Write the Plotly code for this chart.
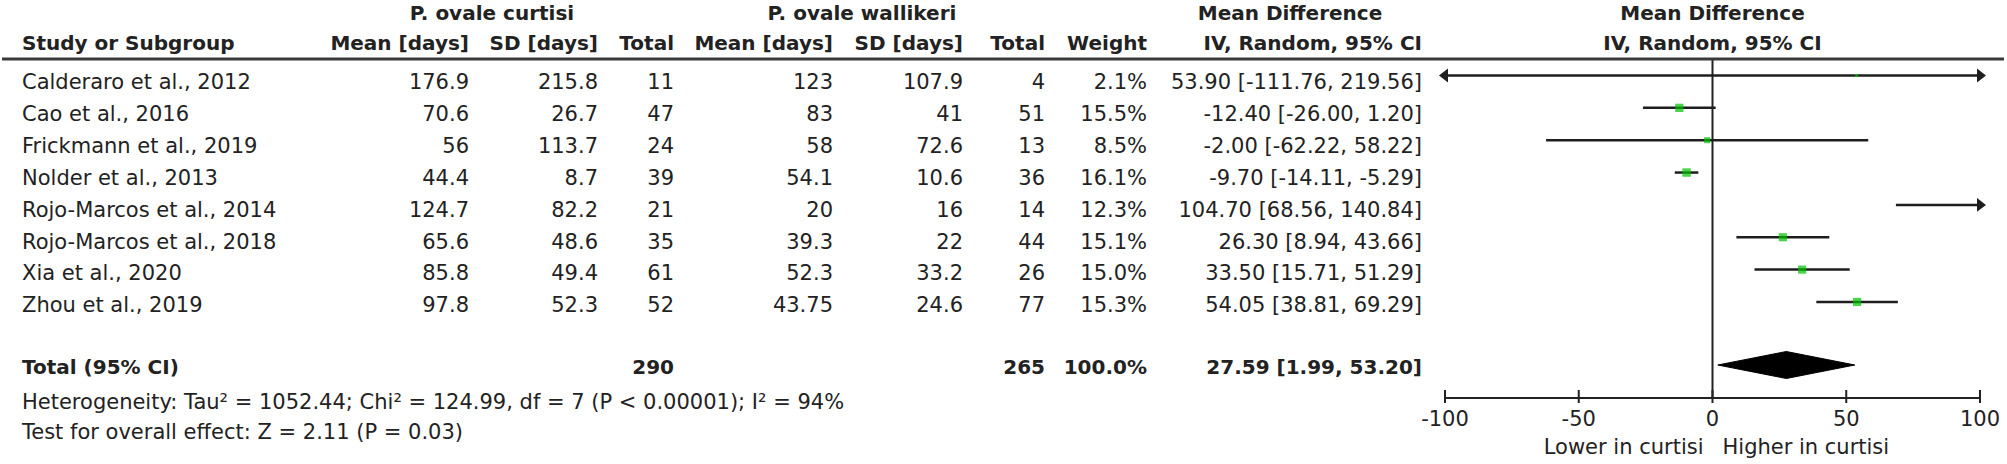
import math
import plotly.graph_objects as go

# ---------------- data ----------------
studies = ["Calderaro et al., 2012", "Cao et al., 2016", "Frickmann et al., 2019",
           "Nolder et al., 2013", "Rojo-Marcos et al., 2014", "Rojo-Marcos et al., 2018",
           "Xia et al., 2020", "Zhou et al., 2019"]
curtisi_mean = [176.9, 70.6, 56, 44.4, 124.7, 65.6, 85.8, 97.8]
curtisi_sd = [215.8, 26.7, 113.7, 8.7, 82.2, 48.6, 49.4, 52.3]
curtisi_n = [11, 47, 24, 39, 21, 35, 61, 52]
wallikeri_mean = [123, 83, 58, 54.1, 20, 39.3, 52.3, 43.75]
wallikeri_sd = [107.9, 41, 72.6, 10.6, 16, 22, 33.2, 24.6]
wallikeri_n = [4, 51, 13, 36, 14, 44, 26, 77]
weights = [2.1, 15.5, 8.5, 16.1, 12.3, 15.1, 15.0, 15.3]
md = [53.90, -12.40, -2.00, -9.70, 104.70, 26.30, 33.50, 54.05]
ci_lo = [-111.76, -26.00, -62.22, -14.11, 68.56, 8.94, 15.71, 38.81]
ci_hi = [219.56, 1.20, 58.22, -5.29, 140.84, 43.66, 51.29, 69.29]

total_curtisi = 290
total_wallikeri = 265
total_weight = 100.0
pooled_md = 27.59
pooled_lo = 1.99
pooled_hi = 53.20

heterogeneity_text = "Heterogeneity: Tau² = 1052.44; Chi² = 124.99, df = 7 (P < 0.00001); I² = 94%"
overall_text = "Test for overall effect: Z = 2.11 (P = 0.03)"

tick_vals = [-100, -50, 0, 50, 100]
tick_text = ["-100", "-50", "0", "50", "100"]
x_min, x_max = -100, 100
favours_left = "Lower in curtisi"
favours_right = "Higher in curtisi"

# ---------------- layout constants ----------------
W, H = 2007, 464
FONT = "DejaVu Sans"
TXT = "#222222"
REG = 21
BOLD = 20
TEXT_DY = 2

n = len(studies)
row_text_y = [82 + 31.85 * i for i in range(n)]
row_mark_y = [75.5 + 32.35 * i for i in range(n)]
total_text_y = 367
total_mark_y = 365
diamond_half = 13.5
het_y = 402
test_y = 432
head1_y = 13
head2_y = 43
rule_y = 59
axis_y = 398
tick_up, tick_down = 8, 5
ticklab_y = 419
lab_y = 447

col_study = 22
col_c_mean = 469
col_c_sd = 598
col_c_n = 674
col_w_mean = 833
col_w_sd = 963
col_w_n = 1045
col_weight = 1147
col_ci = 1422
plot_left_px, plot_right_px = 1445, 1980
pad_px = 20
ppu = (plot_right_px - plot_left_px) / (x_max - x_min)
zero_px = plot_left_px + (0 - x_min) * ppu

fig = go.Figure()

# CI lines (drawn up to the axis limits; arrows mark the overflow)
xs, ys = [], []
for lo, hi, y in zip(ci_lo, ci_hi, row_mark_y):
    xs += [max(lo, x_min), min(hi, x_max), None]
    ys += [y, y, None]
fig.add_trace(go.Scatter(x=xs, y=ys, mode="lines",
                         line=dict(color="#1e1e1e", width=2.5),
                         hoverinfo="skip", showlegend=False))

# arrow heads for intervals exceeding the axis
ax_x, ax_y, ax_sym = [], [], []
for lo, hi, y in zip(ci_lo, ci_hi, row_mark_y):
    if lo < x_min:
        ax_x.append(x_min); ax_y.append(y); ax_sym.append("triangle-left")
    if hi > x_max:
        ax_x.append(x_max); ax_y.append(y); ax_sym.append("triangle-right")
fig.add_trace(go.Scatter(x=ax_x, y=ax_y, mode="markers", cliponaxis=False,
                         marker=dict(symbol=ax_sym, size=12, color="#1e1e1e",
                                     line=dict(width=0)),
                         hoverinfo="skip", showlegend=False))

# study squares (only those inside the axis range are shown)
sq_x = [m if x_min <= m <= x_max else None for m in md]
fig.add_trace(go.Scatter(x=sq_x, y=row_mark_y, mode="markers", cliponaxis=True,
                         marker=dict(symbol="square",
                                     size=[2.1 * math.sqrt(w) for w in weights],
                                     color="#00c000", line=dict(width=0)),
                         hoverinfo="skip", showlegend=False))

# pooled diamond
fig.add_trace(go.Scatter(
    x=[pooled_lo, pooled_md, pooled_hi, pooled_md, pooled_lo],
    y=[total_mark_y, total_mark_y - diamond_half, total_mark_y,
       total_mark_y + diamond_half, total_mark_y],
    mode="lines", fill="toself", fillcolor="#000000",
    line=dict(color="#000000", width=1), hoverinfo="skip", showlegend=False))

# axis line and tick marks
tx, ty = [x_min, x_max, None], [axis_y, axis_y, None]
for v in tick_vals:
    tx += [v, v, None]
    ty += [axis_y - tick_up, axis_y + tick_down, None]
fig.add_trace(go.Scatter(x=tx, y=ty, mode="lines", cliponaxis=False,
                         line=dict(color="#222222", width=2),
                         hoverinfo="skip", showlegend=False))


def add_text(xs_, ys_, texts, pos, bold=False, xaxis="x2"):
    fig.add_trace(go.Scatter(
        x=list(xs_), y=[y + TEXT_DY for y in ys_], text=list(texts), mode="text",
        textposition=pos, cliponaxis=False, xaxis=xaxis, yaxis="y",
        textfont=dict(family=FONT, size=(BOLD if bold else REG), color=TXT,
                      weight=("bold" if bold else "normal")),
        hoverinfo="skip", showlegend=False))


def fmt(v):
    return "%g" % v


R = "middle left"   # text ends at x (right aligned)
L = "middle right"  # text starts at x (left aligned)
C = "middle center"

# tick labels
add_text(tick_vals, [ticklab_y] * len(tick_vals), tick_text, C, xaxis="x")

# headers
add_text([492, 862, 1290], [head1_y] * 3,
         ["P. ovale curtisi", "P. ovale wallikeri", "Mean Difference"], C, True)
add_text([0, 0], [head1_y, head2_y], ["Mean Difference", "IV, Random, 95% CI"], C, True, xaxis="x")
add_text([col_study], [head2_y], ["Study or Subgroup"], L, True)
add_text([col_c_mean, col_c_sd, col_c_n, col_w_mean, col_w_sd, col_w_n, col_weight, col_ci],
         [head2_y] * 8,
         ["Mean [days]", "SD [days]", "Total", "Mean [days]", "SD [days]", "Total",
          "Weight", "IV, Random, 95% CI"], R, True)

# study rows
add_text([col_study] * n, row_text_y, studies, L)
add_text([col_c_mean] * n, row_text_y, [fmt(v) for v in curtisi_mean], R)
add_text([col_c_sd] * n, row_text_y, [fmt(v) for v in curtisi_sd], R)
add_text([col_c_n] * n, row_text_y, [fmt(v) for v in curtisi_n], R)
add_text([col_w_mean] * n, row_text_y, [fmt(v) for v in wallikeri_mean], R)
add_text([col_w_sd] * n, row_text_y, [fmt(v) for v in wallikeri_sd], R)
add_text([col_w_n] * n, row_text_y, [fmt(v) for v in wallikeri_n], R)
add_text([col_weight] * n, row_text_y, ["%.1f%%" % w for w in weights], R)
add_text([col_ci] * n, row_text_y,
         ["%.2f [%.2f, %.2f]" % (m, a, b) for m, a, b in zip(md, ci_lo, ci_hi)], R)

# total row
add_text([col_study], [total_text_y], ["Total (95% CI)"], L, True)
add_text([col_c_n, col_w_n, col_weight, col_ci], [total_text_y] * 4,
         [str(total_curtisi), str(total_wallikeri), "%.1f%%" % total_weight,
          "%.2f [%.2f, %.2f]" % (pooled_md, pooled_lo, pooled_hi)], R, True)

# footer
add_text([col_study, col_study], [het_y, test_y], [heterogeneity_text, overall_text], L)

# favours labels
add_text([zero_px - 9], [lab_y], [favours_left], R)
add_text([zero_px + 10], [lab_y], [favours_right], L)

# header rule and zero line
fig.add_shape(type="line", xref="x2", yref="y", x0=2, x1=2004,
              y0=rule_y, y1=rule_y, line=dict(color="#3a3a3a", width=3))
fig.add_shape(type="line", xref="x", yref="y", x0=0, x1=0, y0=rule_y, y1=axis_y,
              line=dict(color="#222222", width=2), layer="below")

fig.update_layout(
    width=W, height=H, autosize=False,
    margin=dict(l=0, r=0, t=0, b=0, pad=0),
    paper_bgcolor="white", plot_bgcolor="rgba(0,0,0,0)",
    showlegend=False,
    xaxis=dict(domain=[(plot_left_px - pad_px) / W, (plot_right_px + pad_px) / W],
               range=[x_min - pad_px / ppu, x_max + pad_px / ppu],
               anchor="y", visible=False, fixedrange=True),
    xaxis2=dict(domain=[0, 1], range=[0, W], anchor="y", visible=False,
                fixedrange=True),
    yaxis=dict(domain=[0, 1], range=[H, 0], visible=False,
               fixedrange=True, showgrid=False, zeroline=False),
)

fig.write_html("out.html",
               config={"displayModeBar": False, "responsive": False},
               post_script="document.body.style.margin='0';document.body.style.overflow='hidden';")
